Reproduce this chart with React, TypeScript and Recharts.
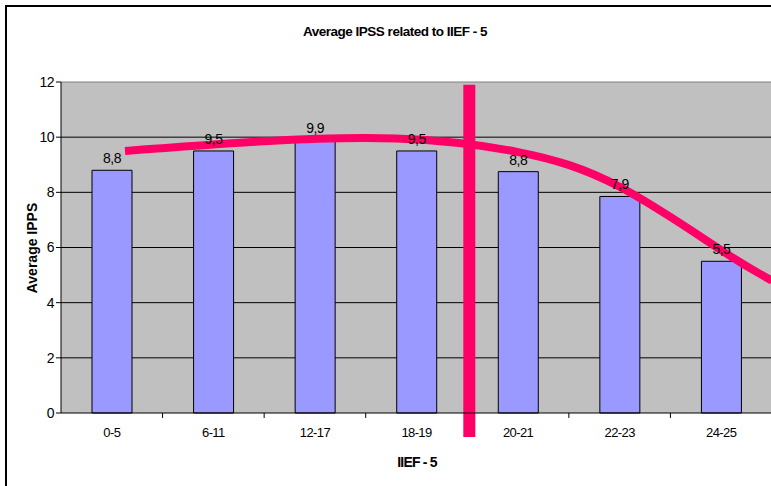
import {
  ComposedChart,
  Bar,
  Line,
  XAxis,
  YAxis,
  CartesianGrid,
  ReferenceLine,
  LabelList,
} from 'recharts';

// IIEF-5 score groups and the average IPSS measured in each
const categories = ['0-5', '6-11', '12-17', '18-19', '20-21', '22-23', '24-25'];
const avgIpss = [8.8, 9.5, 9.9, 9.5, 8.75, 7.85, 5.5];
const yTicks = [0, 2, 4, 6, 8, 10, 12];

// hand-drawn trend curve, in category units (0 = left edge of plot)
const trendX = [0.63, 2.0, 3.3, 4.5, 5.5, 6.5, 7.0];
const trendY = [9.5, 9.85, 9.95, 9.46, 8.2, 5.9, 4.8];

// vertical cut-off marker between 18-19 and 20-21
const cutoffX = 4.02;
const cutoffSpan = [11.9, -0.87];

const PINK = '#FF0066';
const FONT = '"Liberation Sans", Arial, sans-serif';

const barData = categories.map((name, i) => ({ name, value: avgIpss[i] }));
const trendData = trendX.map((x, i) => ({ x, y: trendY[i] }));
const boundaries = categories.slice(1).map((_, i) => i + 1);

// Excel-style label: one decimal, comma separator, half rounds up
const fmt = (v: number) => (Math.round(v * 10) / 10).toFixed(1).replace('.', ',');

export default function App() {
  return (
    <div
      style={{
        position: 'absolute',
        left: 0,
        top: 0,
        width: 771,
        height: 486,
        overflow: 'hidden',
        background: '#fff',
        fontFamily: FONT,
      }}
    >
      <div
        style={{
          position: 'absolute',
          left: 5,
          top: 5,
          width: 800,
          height: 520,
          border: '2px solid #000',
          boxSizing: 'border-box',
        }}
      />
      <div
        style={{
          position: 'absolute',
          left: 0,
          width: 790,
          top: 24,
          textAlign: 'center',
          fontWeight: 'bold',
          fontSize: 13.5,
          letterSpacing: -0.5,
        }}
      >
        Average IPSS related to IIEF - 5
      </div>
      <div
        style={{
          position: 'absolute',
          left: 32,
          top: 248,
          transform: 'translate(-50%, -50%) rotate(-90deg)',
          fontWeight: 'bold',
          fontSize: 14,
          whiteSpace: 'nowrap',
        }}
      >
        Average IPPS
      </div>
      <div
        style={{
          position: 'absolute',
          left: 417,
          top: 462,
          transform: 'translate(-50%, -50%)',
          fontWeight: 'bold',
          fontSize: 14,
          letterSpacing: -0.8,
          whiteSpace: 'nowrap',
        }}
      >
        IIEF - 5
      </div>
      <div style={{ position: 'absolute', left: 0, top: 0 }}>
        <ComposedChart
          width={790}
          height={486}
          data={barData}
          margin={{ top: 82, right: 18, bottom: 43, left: 21 }}
        >
          <CartesianGrid
            xAxisId="cat"
            vertical={false}
            horizontalValues={[2, 4, 6, 8, 10]}
            stroke="#000"
            fill="#C0C0C0"
            fillOpacity={1}
          />
          <XAxis
            xAxisId="cat"
            dataKey="name"
            height={30}
            tickLine={false}
            axisLine={{ stroke: '#000' }}
            tick={{ fill: '#000', fontSize: 13, fontFamily: FONT, letterSpacing: -0.6 }}
            tickMargin={9}
          />
          <XAxis xAxisId="num" type="number" dataKey="x" domain={[0, 7]} hide />
          <YAxis
            width={40}
            domain={[0, 12]}
            ticks={yTicks}
            tickSize={5}
            axisLine={{ stroke: '#000' }}
            tickLine={{ stroke: '#000' }}
            tick={{ fill: '#000', fontSize: 14, fontFamily: FONT, letterSpacing: -0.5 }}
            interval={0}
          />
          <ReferenceLine xAxisId="num" y={12} stroke="#808080" />
          {boundaries.map((b) => (
            <ReferenceLine
              key={b}
              xAxisId="num"
              segment={[
                { x: b, y: 0 },
                { x: b, y: -0.18 },
              ]}
              ifOverflow="visible"
              stroke="#000"
            />
          ))}
          <Bar
            xAxisId="cat"
            dataKey="value"
            barSize={40}
            fill="#9999FF"
            stroke="#000"
            strokeWidth={1}
            isAnimationActive={false}
          >
            <LabelList
              dataKey="value"
              position="top"
              offset={7}
              formatter={(v: number) => fmt(v)}
              style={{ fill: '#000', fontSize: 14, fontFamily: FONT, letterSpacing: -0.5 }}
            />
          </Bar>
          <Line
            xAxisId="num"
            data={trendData}
            dataKey="y"
            type="natural"
            stroke={PINK}
            strokeWidth={8}
            dot={false}
            activeDot={false}
            isAnimationActive={false}
          />
          <ReferenceLine
            xAxisId="num"
            segment={[
              { x: cutoffX, y: cutoffSpan[0] },
              { x: cutoffX, y: cutoffSpan[1] },
            ]}
            ifOverflow="visible"
            stroke={PINK}
            strokeWidth={12}
          />
        </ComposedChart>
      </div>
    </div>
  );
}
